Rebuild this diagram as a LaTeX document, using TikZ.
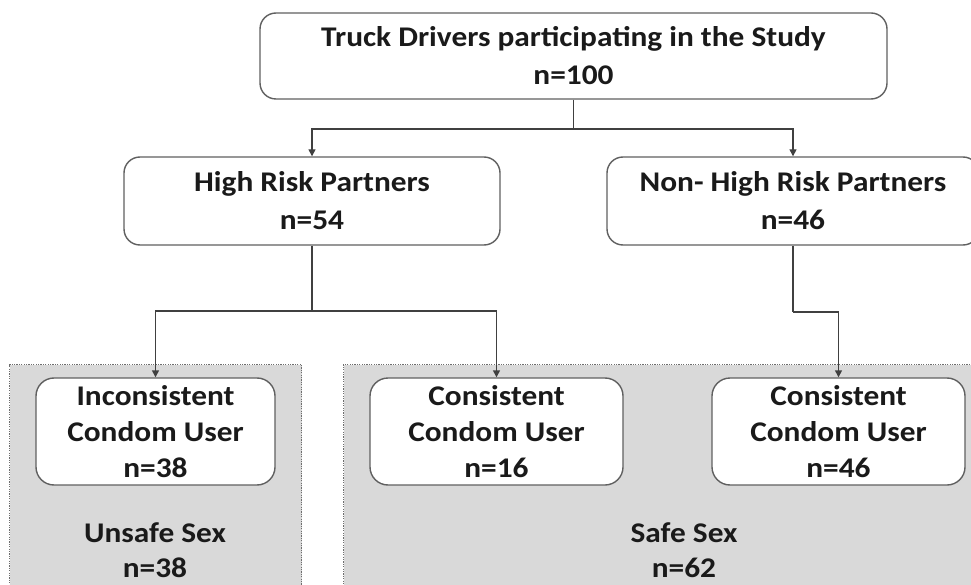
\documentclass[tikz,border=0pt]{standalone}
\usepackage{fontspec}
\setmainfont{Carlito}[FakeStretch=1.1]
\usetikzlibrary{arrows.meta}
\definecolor{boxline}{HTML}{606060}
\definecolor{connline}{HTML}{404040}
\definecolor{zonefill}{HTML}{D9D9D9}
\definecolor{zoneline}{HTML}{6E6E6E}
\definecolor{txt}{HTML}{1A1A1A}
\tikzset{
  stagebox/.style={draw=boxline, line width=1.4pt, fill=white, rounded corners=16pt,
    align=center, inner sep=0pt, text=txt, font=\fontsize{28.5}{38}\selectfont\bfseries},
  zonebox/.style={draw=zoneline, line width=1pt, dash pattern=on 1.2pt off 1.2pt, fill=zonefill, inner sep=0pt},
  zonelabel/.style={align=center, text=txt, font=\fontsize{28.5}{35}\selectfont\bfseries, inner sep=0pt},
  conn/.style={draw=connline, line width=1.4pt},
  arr/.style={conn, -{Triangle[length=7pt,width=7pt]}}
}
\begin{document}
\begin{tikzpicture}[x=1pt,y=-1pt]
\useasboundingbox (0,0) rectangle (971,585);
\fill[white] (0,0) rectangle (971,585);
\clip (0,0) rectangle (971,585);
% zones
\node[zonebox, minimum width=292pt, minimum height=240pt, anchor=north west] (unsafe) at (9,364) {};
\node[zonebox, minimum width=690pt, minimum height=240pt, anchor=north west] (safe) at (343,364) {};
\node[zonelabel] (unsafelbl) at (155,550) {Unsafe Sex\\n=38};
\node[zonelabel] (safelbl) at (684,550) {Safe Sex\\n=62};
% boxes
\node[stagebox, minimum width=627pt, minimum height=86pt] (top) at (573.5,56) {Truck Drivers participating in the Study\\n=100};
\node[stagebox, minimum width=376pt, minimum height=88pt] (high) at (312,201) {High Risk Partners\\n=54};
\node[stagebox, minimum width=372pt, minimum height=88pt] (nonhigh) at (793,201) {Non- High Risk Partners\\n=46};
\node[stagebox, rounded corners=18pt, font=\fontsize{28.5}{36}\selectfont\bfseries, minimum width=239pt, minimum height=107pt] (inc) at (155.5,431.5) {Inconsistent\\Condom User\\n=38};
\node[stagebox, rounded corners=18pt, font=\fontsize{28.5}{36}\selectfont\bfseries, minimum width=253pt, minimum height=107pt] (con16) at (496.5,431.5) {Consistent\\Condom User\\n=16};
\node[stagebox, rounded corners=18pt, font=\fontsize{28.5}{36}\selectfont\bfseries, minimum width=253pt, minimum height=107pt] (con46) at (838.5,431.5) {Consistent\\Condom User\\n=46};
% junctions
\coordinate (j1) at (573.5,129);
\coordinate (j2) at (312,311);
\coordinate (j3) at (793,312);
% connectors
\draw[conn] (top.south) -- (j1);
\draw[arr] (j1) -| (high.north);
\draw[arr] (j1) -| (nonhigh.north);
\draw[conn] (high.south) -- (j2);
\draw[arr] (j2) -| (inc.north);
\draw[arr] (j2) -| (con16.north);
\draw[conn] (nonhigh.south) -- (j3);
\draw[arr] (j3) -| (con46.north);
\end{tikzpicture}
\end{document}
